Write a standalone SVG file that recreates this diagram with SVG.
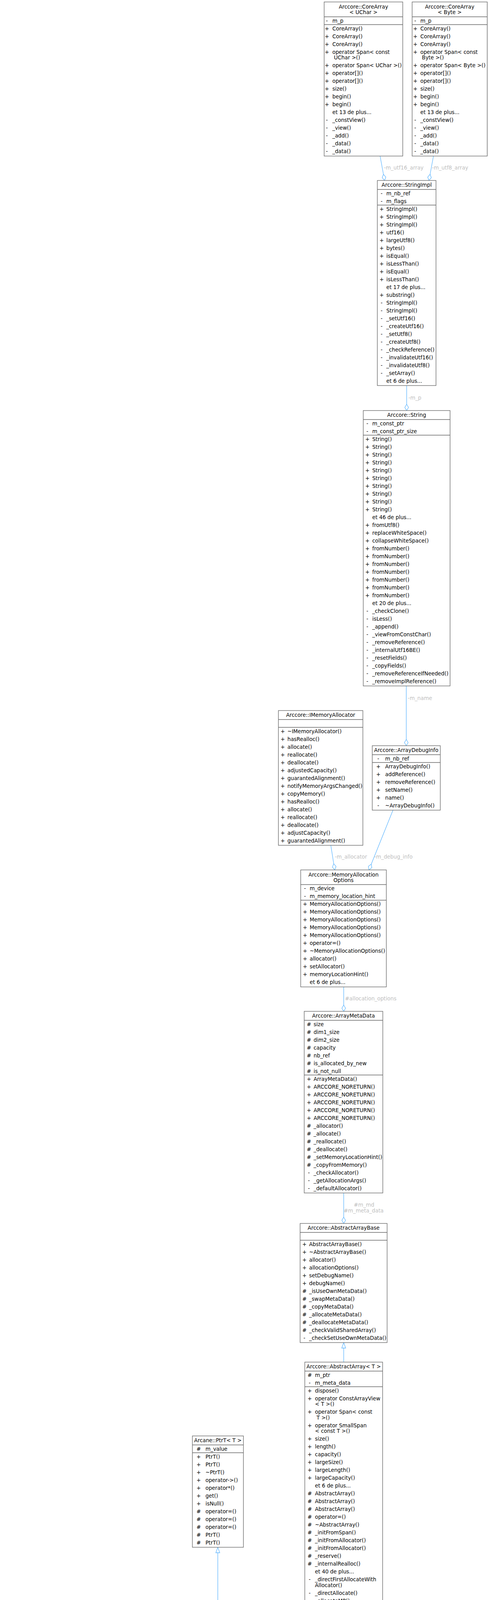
<svg xmlns="http://www.w3.org/2000/svg" width="1248" height="6580" viewBox="0 0 1248 6580">
<style>
.box{fill:#fff;stroke:#666;stroke-width:1.33}
.lbox{fill:#fff;stroke:#bfbfbf;stroke-width:1.33}
.focus{fill:#999;stroke:#666;stroke-width:1.33}
.sep{stroke:#666;stroke-width:1.33}
.lsep{stroke:#bfbfbf;stroke-width:1.33}
text{font-family:"DejaVu Sans","Liberation Sans",sans-serif;font-size:13.33px;fill:#000}
.c{text-anchor:middle}
.e{fill:none;stroke:#63b8ff;stroke-width:1.33}
.comp{marker-end:url(#dia)}
.inh{marker-end:url(#tri)}
.lbl{fill:#bebebe;text-anchor:middle}
</style>
<defs>
<marker id="dia" markerUnits="userSpaceOnUse" markerWidth="18" markerHeight="12" viewBox="0 -6 18 12" refX="17" refY="0" orient="auto"><path d="M1,0 L9,-4.7 L17,0 L9,4.7 Z" fill="#fff" stroke="#63b8ff" stroke-width="1.33"/></marker>
<marker id="tri" markerUnits="userSpaceOnUse" markerWidth="16" markerHeight="12" viewBox="0 -6 16 12" refX="15" refY="0" orient="auto"><path d="M1,-5 L15,0 L1,5 Z" fill="#fff" stroke="#63b8ff" stroke-width="1.33"/></marker>
</defs>
<rect x="0" y="0" width="1248" height="6580" fill="#fff"/>

<g id="connectors">
<path class="e comp" d="M972,399.5 L983.5,462"/>
<path class="e comp" d="M1108.5,399.5 L1097,462"/>
<path class="e comp" d="M1040,987 L1040,1051"/>
<path class="e comp" d="M1039,1756 L1039,1909"/>
<path class="e comp" d="M846,2164 L856,2227"/>
<path class="e comp" d="M1005,2074 L943.5,2227"/>
<path class="e comp" d="M879,2526.5 L879,2589"/>
<path class="e comp" d="M879,3054 L879,3132"/>
<path class="e inh" d="M879,3487 L879,3437"/>
<path class="e inh" d="M810,4200 L816,4150"/>
<path class="e inh" d="M947.5,4200 L941,4150"/>
<path class="e inh" d="M557,4295 L557,3961"/>
<path class="e inh" d="M129,5092 L129,4547"/>
<path class="e inh" d="M770.5,5305 L770,4628.5"/>
<path class="e inh" d="M953,5305 L977.5,4628.5"/>
<path class="e comp" d="M562,4534.5 L588,5282"/>
<path class="e comp" d="M130,5797 C150,6080 300,6270 572.5,6391"/>
<path class="e comp" d="M424,6197 C450,6275 500,6335 572.5,6367"/>
<path class="e comp" d="M573,5607 C565,5800 575,6100 605,6275"/>
<path class="e comp" d="M776,5584.5 C778,5900 750,6150 732.5,6275"/>
<path class="e comp" d="M945,5584.5 C935,5950 880,6230 790,6311"/>
<path class="e comp" d="M1125,5487 C1150,5650 1160,5800 1150,5950 C1135,6150 1000,6320 790,6386"/>
<text class="lbl" x="1032.5" y="433.5">-m_utf16_array</text>
<text class="lbl" x="1151" y="433.5">-m_utf8_array</text>
<text class="lbl" x="1061" y="1022.5">-m_p</text>
<text class="lbl" x="1074" y="1791.5">-m_name</text>
<text class="lbl" x="897.5" y="2198">-m_allocator</text>
<text class="lbl" x="1006" y="2198">-m_debug_info</text>
<text class="lbl" x="948" y="2561">#allocation_options</text>
<text class="lbl" x="931" y="3088.5">#m_md</text>
<text class="lbl" x="930" y="3103.5">#m_meta_data</text>
<text class="lbl" x="601" y="4663.5">#m_impl</text>
<text class="lbl" x="345.5" y="6239">+m_mesh</text>
<text class="lbl" x="521.5" y="6231.5">+m_item_family</text>
<text class="lbl" x="519" y="6246.5">+m_sub_item_family</text>
<text class="lbl" x="670" y="6231.5">+m_item_group</text>
<text class="lbl" x="667" y="6246.5">+m_sub_item_group</text>
<text class="lbl" x="784" y="6239">+m_indexes</text>
<text class="lbl" x="930" y="6239">+m_sub_items_local_id</text>
<text class="lbl" x="1102" y="6239">+m_compute_functor</text>
</g>

<g id="n_corearray_uchar">
<rect class="box" x="829" y="5" width="201" height="394.5"/>
<line class="sep" x1="829" y1="43" x2="1030" y2="43"/>
<line class="sep" x1="829" y1="63" x2="1030" y2="63"/>
<text class="c"><tspan x="929.5" y="21.5">Arccore::CoreArray</tspan><tspan x="929.5" y="35.5">&lt; UChar &gt;</tspan></text>
<text class="c"><tspan x="836" y="57.5">-</tspan><tspan x="836" y="77.5">+</tspan><tspan x="836" y="97.5">+</tspan><tspan x="836" y="117.5">+</tspan><tspan x="836" y="137.5">+</tspan><tspan x="836" y="172">+</tspan><tspan x="836" y="192">+</tspan><tspan x="836" y="212">+</tspan><tspan x="836" y="232">+</tspan><tspan x="836" y="252">+</tspan><tspan x="836" y="272">+</tspan><tspan x="836" y="312">-</tspan><tspan x="836" y="332">-</tspan><tspan x="836" y="352">-</tspan><tspan x="836" y="372">-</tspan><tspan x="836" y="392">-</tspan></text>
<text><tspan x="850" y="57.5">m_p</tspan><tspan x="850" dy="20">CoreArray()</tspan><tspan x="850" dy="20">CoreArray()</tspan><tspan x="850" dy="20">CoreArray()</tspan><tspan x="850" dy="20">operator Span&lt; const</tspan><tspan x="854" dy="14.5">UChar &gt;()</tspan><tspan x="850" dy="20">operator Span&lt; UChar &gt;()</tspan><tspan x="850" dy="20">operator[]()</tspan><tspan x="850" dy="20">operator[]()</tspan><tspan x="850" dy="20">size()</tspan><tspan x="850" dy="20">begin()</tspan><tspan x="850" dy="20">begin()</tspan><tspan x="850" dy="20">et 13 de plus...</tspan><tspan x="850" dy="20">_constView()</tspan><tspan x="850" dy="20">_view()</tspan><tspan x="850" dy="20">_add()</tspan><tspan x="850" dy="20">_data()</tspan><tspan x="850" dy="20">_data()</tspan></text>
</g>

<g id="n_corearray_byte">
<rect class="box" x="1054" y="5" width="192" height="394.5"/>
<line class="sep" x1="1054" y1="43" x2="1246" y2="43"/>
<line class="sep" x1="1054" y1="63" x2="1246" y2="63"/>
<text class="c"><tspan x="1150" y="21.5">Arccore::CoreArray</tspan><tspan x="1150" y="35.5">&lt; Byte &gt;</tspan></text>
<text class="c"><tspan x="1062" y="57.5">-</tspan><tspan x="1062" y="77.5">+</tspan><tspan x="1062" y="97.5">+</tspan><tspan x="1062" y="117.5">+</tspan><tspan x="1062" y="137.5">+</tspan><tspan x="1062" y="172">+</tspan><tspan x="1062" y="192">+</tspan><tspan x="1062" y="212">+</tspan><tspan x="1062" y="232">+</tspan><tspan x="1062" y="252">+</tspan><tspan x="1062" y="272">+</tspan><tspan x="1062" y="312">-</tspan><tspan x="1062" y="332">-</tspan><tspan x="1062" y="352">-</tspan><tspan x="1062" y="372">-</tspan><tspan x="1062" y="392">-</tspan></text>
<text><tspan x="1075" y="57.5">m_p</tspan><tspan x="1075" dy="20">CoreArray()</tspan><tspan x="1075" dy="20">CoreArray()</tspan><tspan x="1075" dy="20">CoreArray()</tspan><tspan x="1075" dy="20">operator Span&lt; const</tspan><tspan x="1079" dy="14.5">Byte &gt;()</tspan><tspan x="1075" dy="20">operator Span&lt; Byte &gt;()</tspan><tspan x="1075" dy="20">operator[]()</tspan><tspan x="1075" dy="20">operator[]()</tspan><tspan x="1075" dy="20">size()</tspan><tspan x="1075" dy="20">begin()</tspan><tspan x="1075" dy="20">begin()</tspan><tspan x="1075" dy="20">et 13 de plus...</tspan><tspan x="1075" dy="20">_constView()</tspan><tspan x="1075" dy="20">_view()</tspan><tspan x="1075" dy="20">_add()</tspan><tspan x="1075" dy="20">_data()</tspan><tspan x="1075" dy="20">_data()</tspan></text>
</g>

<g id="n_stringimpl">
<rect class="box" x="965" y="462" width="150" height="525"/>
<line class="sep" x1="965" y1="485" x2="1115" y2="485"/>
<line class="sep" x1="965" y1="525" x2="1115" y2="525"/>
<text class="c" x="1040" y="478">Arccore::StringImpl</text>
<text class="c"><tspan x="976" y="499.5">-</tspan><tspan x="976" y="519.5">-</tspan><tspan x="976" y="539.5">+</tspan><tspan x="976" y="559.5">+</tspan><tspan x="976" y="579.5">+</tspan><tspan x="976" y="599.5">+</tspan><tspan x="976" y="619.5">+</tspan><tspan x="976" y="639.5">+</tspan><tspan x="976" y="659.5">+</tspan><tspan x="976" y="679.5">+</tspan><tspan x="976" y="699.5">+</tspan><tspan x="976" y="719.5">+</tspan><tspan x="976" y="759.5">+</tspan><tspan x="976" y="779.5">-</tspan><tspan x="976" y="799.5">-</tspan><tspan x="976" y="819.5">-</tspan><tspan x="976" y="839.5">-</tspan><tspan x="976" y="859.5">-</tspan><tspan x="976" y="879.5">-</tspan><tspan x="976" y="899.5">-</tspan><tspan x="976" y="919.5">-</tspan><tspan x="976" y="939.5">-</tspan><tspan x="976" y="959.5">-</tspan></text>
<text><tspan x="988" y="499.5">m_nb_ref</tspan><tspan x="988" dy="20">m_flags</tspan><tspan x="988" dy="20">StringImpl()</tspan><tspan x="988" dy="20">StringImpl()</tspan><tspan x="988" dy="20">StringImpl()</tspan><tspan x="988" dy="20">utf16()</tspan><tspan x="988" dy="20">largeUtf8()</tspan><tspan x="988" dy="20">bytes()</tspan><tspan x="988" dy="20">isEqual()</tspan><tspan x="988" dy="20">isLessThan()</tspan><tspan x="988" dy="20">isEqual()</tspan><tspan x="988" dy="20">isLessThan()</tspan><tspan x="988" dy="20">et 17 de plus...</tspan><tspan x="988" dy="20">substring()</tspan><tspan x="988" dy="20">StringImpl()</tspan><tspan x="988" dy="20">StringImpl()</tspan><tspan x="988" dy="20">_setUtf16()</tspan><tspan x="988" dy="20">_createUtf16()</tspan><tspan x="988" dy="20">_setUtf8()</tspan><tspan x="988" dy="20">_createUtf8()</tspan><tspan x="988" dy="20">_checkReference()</tspan><tspan x="988" dy="20">_invalidateUtf16()</tspan><tspan x="988" dy="20">_invalidateUtf8()</tspan><tspan x="988" dy="20">_setArray()</tspan><tspan x="988" dy="20">et 6 de plus...</tspan></text>
</g>

<g id="n_string">
<rect class="box" x="929" y="1051" width="222" height="705"/>
<line class="sep" x1="929" y1="1074" x2="1151" y2="1074"/>
<line class="sep" x1="929" y1="1114" x2="1151" y2="1114"/>
<text class="c" x="1040" y="1067">Arccore::String</text>
<text class="c"><tspan x="939.5" y="1088.5">-</tspan><tspan x="939.5" y="1108.5">-</tspan><tspan x="939.5" y="1128.5">+</tspan><tspan x="939.5" y="1148.5">+</tspan><tspan x="939.5" y="1168.5">+</tspan><tspan x="939.5" y="1188.5">+</tspan><tspan x="939.5" y="1208.5">+</tspan><tspan x="939.5" y="1228.5">+</tspan><tspan x="939.5" y="1248.5">+</tspan><tspan x="939.5" y="1268.5">+</tspan><tspan x="939.5" y="1288.5">+</tspan><tspan x="939.5" y="1308.5">+</tspan><tspan x="939.5" y="1348.5">+</tspan><tspan x="939.5" y="1368.5">+</tspan><tspan x="939.5" y="1388.5">+</tspan><tspan x="939.5" y="1408.5">+</tspan><tspan x="939.5" y="1428.5">+</tspan><tspan x="939.5" y="1448.5">+</tspan><tspan x="939.5" y="1468.5">+</tspan><tspan x="939.5" y="1488.5">+</tspan><tspan x="939.5" y="1508.5">+</tspan><tspan x="939.5" y="1528.5">+</tspan><tspan x="939.5" y="1568.5">-</tspan><tspan x="939.5" y="1588.5">-</tspan><tspan x="939.5" y="1608.5">-</tspan><tspan x="939.5" y="1628.5">-</tspan><tspan x="939.5" y="1648.5">-</tspan><tspan x="939.5" y="1668.5">-</tspan><tspan x="939.5" y="1688.5">-</tspan><tspan x="939.5" y="1708.5">-</tspan><tspan x="939.5" y="1728.5">-</tspan><tspan x="939.5" y="1748.5">-</tspan></text>
<text><tspan x="952" y="1088.5">m_const_ptr</tspan><tspan x="952" dy="20">m_const_ptr_size</tspan><tspan x="952" dy="20">String()</tspan><tspan x="952" dy="20">String()</tspan><tspan x="952" dy="20">String()</tspan><tspan x="952" dy="20">String()</tspan><tspan x="952" dy="20">String()</tspan><tspan x="952" dy="20">String()</tspan><tspan x="952" dy="20">String()</tspan><tspan x="952" dy="20">String()</tspan><tspan x="952" dy="20">String()</tspan><tspan x="952" dy="20">String()</tspan><tspan x="952" dy="20">et 46 de plus...</tspan><tspan x="952" dy="20">fromUtf8()</tspan><tspan x="952" dy="20">replaceWhiteSpace()</tspan><tspan x="952" dy="20">collapseWhiteSpace()</tspan><tspan x="952" dy="20">fromNumber()</tspan><tspan x="952" dy="20">fromNumber()</tspan><tspan x="952" dy="20">fromNumber()</tspan><tspan x="952" dy="20">fromNumber()</tspan><tspan x="952" dy="20">fromNumber()</tspan><tspan x="952" dy="20">fromNumber()</tspan><tspan x="952" dy="20">fromNumber()</tspan><tspan x="952" dy="20">et 20 de plus...</tspan><tspan x="952" dy="20">_checkClone()</tspan><tspan x="952" dy="20">isLess()</tspan><tspan x="952" dy="20">_append()</tspan><tspan x="952" dy="20">_viewFromConstChar()</tspan><tspan x="952" dy="20">_removeReference()</tspan><tspan x="952" dy="20">_internalUtf16BE()</tspan><tspan x="952" dy="20">_resetFields()</tspan><tspan x="952" dy="20">_copyFields()</tspan><tspan x="952" dy="20">_removeReferenceIfNeeded()</tspan><tspan x="952" dy="20">_removeImplReference()</tspan></text>
</g>

<g id="n_imemoryallocator">
<rect class="box" x="712" y="1819" width="216" height="345"/>
<line class="sep" x1="712" y1="1842" x2="928" y2="1842"/>
<line class="sep" x1="712" y1="1862" x2="928" y2="1862"/>
<text class="c" x="820" y="1835">Arccore::IMemoryAllocator</text>
<text class="c"><tspan x="723" y="1876.5">+</tspan><tspan x="723" y="1896.5">+</tspan><tspan x="723" y="1916.5">+</tspan><tspan x="723" y="1936.5">+</tspan><tspan x="723" y="1956.5">+</tspan><tspan x="723" y="1976.5">+</tspan><tspan x="723" y="1996.5">+</tspan><tspan x="723" y="2016.5">+</tspan><tspan x="723" y="2036.5">+</tspan><tspan x="723" y="2056.5">+</tspan><tspan x="723" y="2076.5">+</tspan><tspan x="723" y="2096.5">+</tspan><tspan x="723" y="2116.5">+</tspan><tspan x="723" y="2136.5">+</tspan><tspan x="723" y="2156.5">+</tspan></text>
<text><tspan x="735" y="1876.5">~IMemoryAllocator()</tspan><tspan x="735" dy="20">hasRealloc()</tspan><tspan x="735" dy="20">allocate()</tspan><tspan x="735" dy="20">reallocate()</tspan><tspan x="735" dy="20">deallocate()</tspan><tspan x="735" dy="20">adjustedCapacity()</tspan><tspan x="735" dy="20">guarantedAlignment()</tspan><tspan x="735" dy="20">notifyMemoryArgsChanged()</tspan><tspan x="735" dy="20">copyMemory()</tspan><tspan x="735" dy="20">hasRealloc()</tspan><tspan x="735" dy="20">allocate()</tspan><tspan x="735" dy="20">reallocate()</tspan><tspan x="735" dy="20">deallocate()</tspan><tspan x="735" dy="20">adjustCapacity()</tspan><tspan x="735" dy="20">guarantedAlignment()</tspan></text>
</g>

<g id="n_arraydebuginfo">
<rect class="box" x="952" y="1909" width="174" height="165"/>
<line class="sep" x1="952" y1="1932" x2="1126" y2="1932"/>
<line class="sep" x1="952" y1="1952" x2="1126" y2="1952"/>
<text class="c" x="1039" y="1925">Arccore::ArrayDebugInfo</text>
<text class="c"><tspan x="967.5" y="1946.5">-</tspan><tspan x="967.5" y="1966.5">+</tspan><tspan x="967.5" y="1986.5">+</tspan><tspan x="967.5" y="2006.5">+</tspan><tspan x="967.5" y="2026.5">+</tspan><tspan x="967.5" y="2046.5">+</tspan><tspan x="967.5" y="2066.5">-</tspan></text>
<text><tspan x="985" y="1946.5">m_nb_ref</tspan><tspan x="985" dy="20">ArrayDebugInfo()</tspan><tspan x="985" dy="20">addReference()</tspan><tspan x="985" dy="20">removeReference()</tspan><tspan x="985" dy="20">setName()</tspan><tspan x="985" dy="20">name()</tspan><tspan x="985" dy="20">~ArrayDebugInfo()</tspan></text>
</g>

<g id="n_memoryallocationoptions">
<rect class="box" x="769" y="2227" width="219" height="299.5"/>
<line class="sep" x1="769" y1="2264.5" x2="988" y2="2264.5"/>
<line class="sep" x1="769" y1="2304.5" x2="988" y2="2304.5"/>
<text class="c"><tspan x="878.5" y="2243.5">Arccore::MemoryAllocation</tspan><tspan x="878.5" y="2257.5">Options</tspan></text>
<text class="c"><tspan x="780" y="2279">-</tspan><tspan x="780" y="2299">-</tspan><tspan x="780" y="2319">+</tspan><tspan x="780" y="2339">+</tspan><tspan x="780" y="2359">+</tspan><tspan x="780" y="2379">+</tspan><tspan x="780" y="2399">+</tspan><tspan x="780" y="2419">+</tspan><tspan x="780" y="2439">+</tspan><tspan x="780" y="2459">+</tspan><tspan x="780" y="2479">+</tspan><tspan x="780" y="2499">+</tspan></text>
<text><tspan x="792" y="2279">m_device</tspan><tspan x="792" dy="20">m_memory_location_hint</tspan><tspan x="792" dy="20">MemoryAllocationOptions()</tspan><tspan x="792" dy="20">MemoryAllocationOptions()</tspan><tspan x="792" dy="20">MemoryAllocationOptions()</tspan><tspan x="792" dy="20">MemoryAllocationOptions()</tspan><tspan x="792" dy="20">MemoryAllocationOptions()</tspan><tspan x="792" dy="20">operator=()</tspan><tspan x="792" dy="20">~MemoryAllocationOptions()</tspan><tspan x="792" dy="20">allocator()</tspan><tspan x="792" dy="20">setAllocator()</tspan><tspan x="792" dy="20">memoryLocationHint()</tspan><tspan x="792" dy="20">et 6 de plus...</tspan></text>
</g>

<g id="n_arraymetadata">
<rect class="box" x="778" y="2589" width="201" height="465"/>
<line class="sep" x1="778" y1="2612" x2="979" y2="2612"/>
<line class="sep" x1="778" y1="2752" x2="979" y2="2752"/>
<text class="c" x="878.5" y="2605">Arccore::ArrayMetaData</text>
<text class="c"><tspan x="790" y="2626.5">#</tspan><tspan x="790" y="2646.5">#</tspan><tspan x="790" y="2666.5">#</tspan><tspan x="790" y="2686.5">#</tspan><tspan x="790" y="2706.5">#</tspan><tspan x="790" y="2726.5">#</tspan><tspan x="790" y="2746.5">#</tspan><tspan x="790" y="2766.5">+</tspan><tspan x="790" y="2786.5">+</tspan><tspan x="790" y="2806.5">+</tspan><tspan x="790" y="2826.5">+</tspan><tspan x="790" y="2846.5">+</tspan><tspan x="790" y="2866.5">+</tspan><tspan x="790" y="2886.5">#</tspan><tspan x="790" y="2906.5">#</tspan><tspan x="790" y="2926.5">#</tspan><tspan x="790" y="2946.5">#</tspan><tspan x="790" y="2966.5">#</tspan><tspan x="790" y="2986.5">#</tspan><tspan x="790" y="3006.5">-</tspan><tspan x="790" y="3026.5">-</tspan><tspan x="790" y="3046.5">-</tspan></text>
<text><tspan x="802" y="2626.5">size</tspan><tspan x="802" dy="20">dim1_size</tspan><tspan x="802" dy="20">dim2_size</tspan><tspan x="802" dy="20">capacity</tspan><tspan x="802" dy="20">nb_ref</tspan><tspan x="802" dy="20">is_allocated_by_new</tspan><tspan x="802" dy="20">is_not_null</tspan><tspan x="802" dy="20">ArrayMetaData()</tspan><tspan x="802" dy="20">ARCCORE_NORETURN()</tspan><tspan x="802" dy="20">ARCCORE_NORETURN()</tspan><tspan x="802" dy="20">ARCCORE_NORETURN()</tspan><tspan x="802" dy="20">ARCCORE_NORETURN()</tspan><tspan x="802" dy="20">ARCCORE_NORETURN()</tspan><tspan x="802" dy="20">_allocator()</tspan><tspan x="802" dy="20">_allocate()</tspan><tspan x="802" dy="20">_reallocate()</tspan><tspan x="802" dy="20">_deallocate()</tspan><tspan x="802" dy="20">_setMemoryLocationHint()</tspan><tspan x="802" dy="20">_copyFromMemory()</tspan><tspan x="802" dy="20">_checkAllocator()</tspan><tspan x="802" dy="20">_getAllocationArgs()</tspan><tspan x="802" dy="20">_defaultAllocator()</tspan></text>
</g>

<g id="n_abstractarraybase">
<rect class="box" x="767.5" y="3132" width="222.5" height="305"/>
<line class="sep" x1="767.5" y1="3155" x2="990" y2="3155"/>
<line class="sep" x1="767.5" y1="3175" x2="990" y2="3175"/>
<text class="c" x="878.75" y="3148">Arccore::AbstractArrayBase</text>
<text class="c"><tspan x="778.5" y="3189.5">+</tspan><tspan x="778.5" y="3209.5">+</tspan><tspan x="778.5" y="3229.5">+</tspan><tspan x="778.5" y="3249.5">+</tspan><tspan x="778.5" y="3269.5">+</tspan><tspan x="778.5" y="3289.5">+</tspan><tspan x="778.5" y="3309.5">#</tspan><tspan x="778.5" y="3329.5">#</tspan><tspan x="778.5" y="3349.5">#</tspan><tspan x="778.5" y="3369.5">#</tspan><tspan x="778.5" y="3389.5">#</tspan><tspan x="778.5" y="3409.5">#</tspan><tspan x="778.5" y="3429.5">-</tspan></text>
<text><tspan x="790.5" y="3189.5">AbstractArrayBase()</tspan><tspan x="790.5" dy="20">~AbstractArrayBase()</tspan><tspan x="790.5" dy="20">allocator()</tspan><tspan x="790.5" dy="20">allocationOptions()</tspan><tspan x="790.5" dy="20">setDebugName()</tspan><tspan x="790.5" dy="20">debugName()</tspan><tspan x="790.5" dy="20">_isUseOwnMetaData()</tspan><tspan x="790.5" dy="20">_swapMetaData()</tspan><tspan x="790.5" dy="20">_copyMetaData()</tspan><tspan x="790.5" dy="20">_allocateMetaData()</tspan><tspan x="790.5" dy="20">_deallocateMetaData()</tspan><tspan x="790.5" dy="20">_checkValidSharedArray()</tspan><tspan x="790.5" dy="20">_checkSetUseOwnMetaData()</tspan></text>
</g>

<g id="n_abstractarray">
<rect class="box" x="779.5" y="3487" width="199" height="663"/>
<line class="sep" x1="779.5" y1="3510" x2="978.5" y2="3510"/>
<line class="sep" x1="779.5" y1="3550" x2="978.5" y2="3550"/>
<text class="c" x="879" y="3503">Arccore::AbstractArray&lt; T &gt;</text>
<text class="c"><tspan x="792" y="3524.5">#</tspan><tspan x="792" y="3544.5">-</tspan><tspan x="792" y="3564.5">+</tspan><tspan x="792" y="3584.5">+</tspan><tspan x="792" y="3619">+</tspan><tspan x="792" y="3653.5">+</tspan><tspan x="792" y="3688">+</tspan><tspan x="792" y="3708">+</tspan><tspan x="792" y="3728">+</tspan><tspan x="792" y="3748">+</tspan><tspan x="792" y="3768">+</tspan><tspan x="792" y="3788">+</tspan><tspan x="792" y="3828">#</tspan><tspan x="792" y="3848">#</tspan><tspan x="792" y="3868">#</tspan><tspan x="792" y="3888">#</tspan><tspan x="792" y="3908">#</tspan><tspan x="792" y="3928">#</tspan><tspan x="792" y="3948">#</tspan><tspan x="792" y="3968">#</tspan><tspan x="792" y="3988">#</tspan><tspan x="792" y="4008">#</tspan><tspan x="792" y="4048">-</tspan><tspan x="792" y="4082.5">-</tspan><tspan x="792" y="4102.5">-</tspan><tspan x="792" y="4122.5">-</tspan><tspan x="792" y="4142.5">-</tspan></text>
<text><tspan x="805.5" y="3524.5">m_ptr</tspan><tspan x="805.5" dy="20">m_meta_data</tspan><tspan x="805.5" dy="20">dispose()</tspan><tspan x="805.5" dy="20">operator ConstArrayView</tspan><tspan x="805.5" dy="14.5">&lt; T &gt;()</tspan><tspan x="805.5" dy="20">operator Span&lt; const</tspan><tspan x="809.5" dy="14.5">T &gt;()</tspan><tspan x="805.5" dy="20">operator SmallSpan</tspan><tspan x="805.5" dy="14.5">&lt; const T &gt;()</tspan><tspan x="805.5" dy="20">size()</tspan><tspan x="805.5" dy="20">length()</tspan><tspan x="805.5" dy="20">capacity()</tspan><tspan x="805.5" dy="20">largeSize()</tspan><tspan x="805.5" dy="20">largeLength()</tspan><tspan x="805.5" dy="20">largeCapacity()</tspan><tspan x="805.5" dy="20">et 6 de plus...</tspan><tspan x="805.5" dy="20">AbstractArray()</tspan><tspan x="805.5" dy="20">AbstractArray()</tspan><tspan x="805.5" dy="20">AbstractArray()</tspan><tspan x="805.5" dy="20">operator=()</tspan><tspan x="805.5" dy="20">~AbstractArray()</tspan><tspan x="805.5" dy="20">_initFromSpan()</tspan><tspan x="805.5" dy="20">_initFromAllocator()</tspan><tspan x="805.5" dy="20">_initFromAllocator()</tspan><tspan x="805.5" dy="20">_reserve()</tspan><tspan x="805.5" dy="20">_internalRealloc()</tspan><tspan x="805.5" dy="20">et 40 de plus...</tspan><tspan x="805.5" dy="20">_directFirstAllocateWith</tspan><tspan x="805.5" dy="14.5">Allocator()</tspan><tspan x="805.5" dy="20">_directAllocate()</tspan><tspan x="805.5" dy="20">_allocateMP()</tspan><tspan x="805.5" dy="20">_directReAllocate()</tspan><tspan x="805.5" dy="20">_setToSharedNull()</tspan></text>
</g>

<g id="n_ptrt">
<rect class="box" x="492" y="3676" width="130.5" height="285"/>
<line class="sep" x1="492" y1="3699" x2="622.5" y2="3699"/>
<line class="sep" x1="492" y1="3719" x2="622.5" y2="3719"/>
<text class="c" x="557.25" y="3692">Arcane::PtrT&lt; T &gt;</text>
<text class="c"><tspan x="508" y="3713.5">#</tspan><tspan x="508" y="3733.5">+</tspan><tspan x="508" y="3753.5">+</tspan><tspan x="508" y="3773.5">+</tspan><tspan x="508" y="3793.5">+</tspan><tspan x="508" y="3813.5">+</tspan><tspan x="508" y="3833.5">+</tspan><tspan x="508" y="3853.5">+</tspan><tspan x="508" y="3873.5">#</tspan><tspan x="508" y="3893.5">#</tspan><tspan x="508" y="3913.5">#</tspan><tspan x="508" y="3933.5">#</tspan><tspan x="508" y="3953.5">#</tspan></text>
<text><tspan x="525.5" y="3713.5">m_value</tspan><tspan x="525.5" dy="20">PtrT()</tspan><tspan x="525.5" dy="20">PtrT()</tspan><tspan x="525.5" dy="20">~PtrT()</tspan><tspan x="525.5" dy="20">operator-&gt;()</tspan><tspan x="525.5" dy="20">operator*()</tspan><tspan x="525.5" dy="20">get()</tspan><tspan x="525.5" dy="20">isNull()</tspan><tspan x="525.5" dy="20">operator=()</tspan><tspan x="525.5" dy="20">operator=()</tspan><tspan x="525.5" dy="20">operator=()</tspan><tspan x="525.5" dy="20">PtrT()</tspan><tspan x="525.5" dy="20">PtrT()</tspan></text>
</g>

<g id="n_autoreft">
<rect class="box" x="464" y="4295" width="186.5" height="239.5"/>
<line class="sep" x1="464" y1="4332.5" x2="650.5" y2="4332.5"/>
<line class="sep" x1="464" y1="4352.5" x2="650.5" y2="4352.5"/>
<text class="c"><tspan x="557.25" y="4311.5">Arcane::AutoRefT&lt; Arcane</tspan><tspan x="557.25" y="4325.5">::ItemGroupImpl &gt;</tspan></text>
<text class="c"><tspan x="488" y="4347">+</tspan><tspan x="488" y="4367">+</tspan><tspan x="488" y="4387">+</tspan><tspan x="488" y="4407">+</tspan><tspan x="488" y="4427">+</tspan><tspan x="488" y="4447">+</tspan><tspan x="488" y="4467">+</tspan><tspan x="488" y="4487">-</tspan><tspan x="488" y="4507">-</tspan><tspan x="488" y="4527">-</tspan></text>
<text><tspan x="515" y="4347">m_value</tspan><tspan x="515" dy="20">AutoRefT()</tspan><tspan x="515" dy="20">AutoRefT()</tspan><tspan x="515" dy="20">AutoRefT()</tspan><tspan x="515" dy="20">operator=()</tspan><tspan x="515" dy="20">operator=()</tspan><tspan x="515" dy="20">~AutoRefT()</tspan><tspan x="515" dy="20">_addRef()</tspan><tspan x="515" dy="20">_removeRef()</tspan><tspan x="515" dy="20">_changeValue()</tspan></text>
</g>

<g id="n_array_1">
<rect class="box" x="674" y="4200" width="192" height="428.5"/>
<line class="sep" x1="674" y1="4223" x2="866" y2="4223"/>
<line class="sep" x1="674" y1="4243" x2="866" y2="4243"/>
<text class="c" x="770" y="4216">Arccore::Array&lt; T &gt;</text>
<text class="c"><tspan x="685.5" y="4257.5">+</tspan><tspan x="685.5" y="4277.5">+</tspan><tspan x="685.5" y="4312">+</tspan><tspan x="685.5" y="4346.5">+</tspan><tspan x="685.5" y="4381">+</tspan><tspan x="685.5" y="4401">+</tspan><tspan x="685.5" y="4421">+</tspan><tspan x="685.5" y="4441">+</tspan><tspan x="685.5" y="4461">+</tspan><tspan x="685.5" y="4481">+</tspan><tspan x="685.5" y="4521">#</tspan><tspan x="685.5" y="4541">#</tspan><tspan x="685.5" y="4561">#</tspan><tspan x="685.5" y="4581">-</tspan><tspan x="685.5" y="4601">-</tspan><tspan x="685.5" y="4621">-</tspan></text>
<text><tspan x="697.5" y="4257.5">~Array()</tspan><tspan x="697.5" dy="20">operator ConstArrayView</tspan><tspan x="697.5" dy="14.5">&lt; T &gt;()</tspan><tspan x="697.5" dy="20">operator ArrayView</tspan><tspan x="697.5" dy="14.5">&lt; T &gt;()</tspan><tspan x="697.5" dy="20">operator Span&lt; const</tspan><tspan x="701.5" dy="14.5">T &gt;()</tspan><tspan x="697.5" dy="20">operator Span&lt; T &gt;()</tspan><tspan x="697.5" dy="20">constView()</tspan><tspan x="697.5" dy="20">constSpan()</tspan><tspan x="697.5" dy="20">subConstView()</tspan><tspan x="697.5" dy="20">view()</tspan><tspan x="697.5" dy="20">span()</tspan><tspan x="697.5" dy="20">et 53 de plus...</tspan><tspan x="697.5" dy="20">Array()</tspan><tspan x="697.5" dy="20">Array()</tspan><tspan x="697.5" dy="20">_initFromInitializerList()</tspan><tspan x="697.5" dy="20">Array()</tspan><tspan x="697.5" dy="20">operator=()</tspan><tspan x="697.5" dy="20">TV_ttf_display_type()</tspan></text>
</g>

<g id="n_array_2">
<rect class="box" x="890" y="4200" width="193" height="428.5"/>
<line class="sep" x1="890" y1="4223" x2="1083" y2="4223"/>
<line class="sep" x1="890" y1="4243" x2="1083" y2="4243"/>
<text class="c" x="986.5" y="4216">Arccore::Array&lt; T &gt;</text>
<text class="c"><tspan x="901" y="4257.5">+</tspan><tspan x="901" y="4277.5">+</tspan><tspan x="901" y="4312">+</tspan><tspan x="901" y="4346.5">+</tspan><tspan x="901" y="4381">+</tspan><tspan x="901" y="4401">+</tspan><tspan x="901" y="4421">+</tspan><tspan x="901" y="4441">+</tspan><tspan x="901" y="4461">+</tspan><tspan x="901" y="4481">+</tspan><tspan x="901" y="4521">#</tspan><tspan x="901" y="4541">#</tspan><tspan x="901" y="4561">#</tspan><tspan x="901" y="4581">-</tspan><tspan x="901" y="4601">-</tspan><tspan x="901" y="4621">-</tspan></text>
<text><tspan x="913" y="4257.5">~Array()</tspan><tspan x="913" dy="20">operator ConstArrayView</tspan><tspan x="913" dy="14.5">&lt; T &gt;()</tspan><tspan x="913" dy="20">operator ArrayView</tspan><tspan x="913" dy="14.5">&lt; T &gt;()</tspan><tspan x="913" dy="20">operator Span&lt; const</tspan><tspan x="917" dy="14.5">T &gt;()</tspan><tspan x="913" dy="20">operator Span&lt; T &gt;()</tspan><tspan x="913" dy="20">constView()</tspan><tspan x="913" dy="20">constSpan()</tspan><tspan x="913" dy="20">subConstView()</tspan><tspan x="913" dy="20">view()</tspan><tspan x="913" dy="20">span()</tspan><tspan x="913" dy="20">et 53 de plus...</tspan><tspan x="913" dy="20">Array()</tspan><tspan x="913" dy="20">Array()</tspan><tspan x="913" dy="20">_initFromInitializerList()</tspan><tspan x="913" dy="20">Array()</tspan><tspan x="913" dy="20">operator=()</tspan><tspan x="913" dy="20">TV_ttf_display_type()</tspan></text>
</g>

<g id="n_imeshbase">
<rect class="lbox" x="60" y="4282" width="138" height="265"/>
<line class="lsep" x1="60" y1="4305" x2="198" y2="4305"/>
<line class="lsep" x1="60" y1="4325" x2="198" y2="4325"/>
<text class="c" x="129" y="4298">Arcane::IMeshBase</text>
<text class="c"><tspan x="74" y="4339.5">+</tspan><tspan x="74" y="4359.5">+</tspan><tspan x="74" y="4379.5">+</tspan><tspan x="74" y="4399.5">+</tspan><tspan x="74" y="4419.5">+</tspan><tspan x="74" y="4439.5">+</tspan><tspan x="74" y="4459.5">+</tspan><tspan x="74" y="4479.5">+</tspan><tspan x="74" y="4499.5">+</tspan><tspan x="74" y="4519.5">+</tspan></text>
<text><tspan x="89" y="4339.5">~IMeshBase()</tspan><tspan x="89" dy="20">handle()</tspan><tspan x="89" dy="20">name()</tspan><tspan x="89" dy="20">nbNode()</tspan><tspan x="89" dy="20">nbEdge()</tspan><tspan x="89" dy="20">nbFace()</tspan><tspan x="89" dy="20">nbCell()</tspan><tspan x="89" dy="20">nbItem()</tspan><tspan x="89" dy="20">traceMng()</tspan><tspan x="89" dy="20">dimension()</tspan><tspan x="89" dy="20">et 19 de plus...</tspan></text>
</g>

<g id="n_imesh">
<rect class="box" x="5.5" y="5092" width="247.5" height="705"/>
<line class="sep" x1="5.5" y1="5115" x2="253" y2="5115"/>
<line class="sep" x1="5.5" y1="5135" x2="253" y2="5135"/>
<text class="c" x="129.25" y="5108">Arcane::IMesh</text>
<text class="c"><tspan x="16" y="5149.5">+</tspan><tspan x="16" y="5169.5">+</tspan><tspan x="16" y="5189.5">+</tspan><tspan x="16" y="5209.5">+</tspan><tspan x="16" y="5229.5">+</tspan><tspan x="16" y="5249.5">+</tspan><tspan x="16" y="5269.5">+</tspan><tspan x="16" y="5289.5">+</tspan><tspan x="16" y="5309.5">+</tspan><tspan x="16" y="5329.5">+</tspan><tspan x="16" y="5369.5">+</tspan><tspan x="16" y="5389.5">+</tspan><tspan x="16" y="5409.5">+</tspan><tspan x="16" y="5429.5">+</tspan><tspan x="16" y="5449.5">+</tspan><tspan x="16" y="5469.5">+</tspan><tspan x="16" y="5489.5">+</tspan><tspan x="16" y="5509.5">+</tspan><tspan x="16" y="5529.5">+</tspan><tspan x="16" y="5549.5">+</tspan><tspan x="16" y="5589.5">*</tspan><tspan x="16" y="5609.5">*</tspan><tspan x="16" y="5629.5">*</tspan><tspan x="16" y="5649.5">*</tspan><tspan x="16" y="5669.5">*</tspan><tspan x="16" y="5689.5">*</tspan><tspan x="16" y="5709.5">*</tspan><tspan x="16" y="5729.5">*</tspan><tspan x="16" y="5749.5">*</tspan><tspan x="16" y="5769.5">*</tspan></text>
<text><tspan x="28" y="5149.5">~IMesh()</tspan><tspan x="28" dy="20">build()</tspan><tspan x="28" dy="20">factoryName()</tspan><tspan x="28" dy="20">itemsInternal()</tspan><tspan x="28" dy="20">sharedNodesCoordinates()</tspan><tspan x="28" dy="20">checkValidMesh()</tspan><tspan x="28" dy="20">checkValidMeshFull()</tspan><tspan x="28" dy="20">synchronizeGroupsAndVariables()</tspan><tspan x="28" dy="20">isAllocated()</tspan><tspan x="28" dy="20">timestamp()</tspan><tspan x="28" dy="20">et 23 de plus...</tspan><tspan x="28" dy="20">computeTiedInterfaces()</tspan><tspan x="28" dy="20">hasTiedInterface()</tspan><tspan x="28" dy="20">tiedInterfaces()</tspan><tspan x="28" dy="20">partitionConstraintMng()</tspan><tspan x="28" dy="20">utilities()</tspan><tspan x="28" dy="20">properties()</tspan><tspan x="28" dy="20">modifier()</tspan><tspan x="28" dy="20">nodesCoordinates()</tspan><tspan x="28" dy="20">defineParentForBuild()</tspan><tspan x="28" dy="20">parentMesh()</tspan><tspan x="28" dy="20">et 23 de plus...</tspan><tspan x="28" dy="20">computeTiedInterfaces()</tspan><tspan x="28" dy="20">hasTiedInterface()</tspan><tspan x="28" dy="20">tiedInterfaces()</tspan><tspan x="28" dy="20">partitionConstraintMng()</tspan><tspan x="28" dy="20">utilities()</tspan><tspan x="28" dy="20">properties()</tspan><tspan x="28" dy="20">modifier()</tspan><tspan x="28" dy="20">nodesCoordinates()</tspan><tspan x="28" dy="20">defineParentForBuild()</tspan><tspan x="28" dy="20">parentMesh()</tspan><tspan x="28" dy="20">et 23 de plus...</tspan></text>
</g>

<g id="n_iitemfamily">
<rect class="box" x="278" y="4692" width="215" height="1505"/>
<line class="sep" x1="278" y1="4715" x2="493" y2="4715"/>
<line class="sep" x1="278" y1="4735" x2="493" y2="4735"/>
<text class="c" x="385.5" y="4708">Arcane::IItemFamily</text>
<text class="c"><tspan x="289" y="4749.5">+</tspan><tspan x="289" y="4769.5">+</tspan><tspan x="289" y="4789.5">+</tspan><tspan x="289" y="4809.5">+</tspan><tspan x="289" y="4829.5">+</tspan><tspan x="289" y="4849.5">+</tspan><tspan x="289" y="4869.5">+</tspan><tspan x="289" y="4889.5">+</tspan><tspan x="289" y="4909.5">+</tspan><tspan x="289" y="4929.5">+</tspan><tspan x="289" y="4969.5">+</tspan><tspan x="289" y="4989.5">+</tspan><tspan x="289" y="5009.5">+</tspan><tspan x="289" y="5029.5">+</tspan><tspan x="289" y="5049.5">+</tspan><tspan x="289" y="5069.5">+</tspan><tspan x="289" y="5089.5">+</tspan><tspan x="289" y="5109.5">+</tspan><tspan x="289" y="5129.5">+</tspan><tspan x="289" y="5149.5">+</tspan><tspan x="289" y="5189.5">+</tspan><tspan x="289" y="5209.5">+</tspan><tspan x="289" y="5229.5">+</tspan><tspan x="289" y="5249.5">+</tspan><tspan x="289" y="5269.5">+</tspan><tspan x="289" y="5289.5">+</tspan><tspan x="289" y="5309.5">+</tspan><tspan x="289" y="5329.5">+</tspan><tspan x="289" y="5349.5">+</tspan><tspan x="289" y="5369.5">+</tspan><tspan x="289" y="5389.5">+</tspan><tspan x="289" y="5409.5">+</tspan><tspan x="289" y="5429.5">+</tspan><tspan x="289" y="5449.5">+</tspan><tspan x="289" y="5469.5">+</tspan><tspan x="289" y="5489.5">+</tspan><tspan x="289" y="5509.5">+</tspan><tspan x="289" y="5529.5">+</tspan><tspan x="289" y="5549.5">+</tspan><tspan x="289" y="5569.5">+</tspan><tspan x="289" y="5589.5">*</tspan><tspan x="289" y="5609.5">*</tspan><tspan x="289" y="5629.5">*</tspan><tspan x="289" y="5649.5">*</tspan><tspan x="289" y="5669.5">*</tspan><tspan x="289" y="5689.5">*</tspan><tspan x="289" y="5709.5">*</tspan><tspan x="289" y="5729.5">*</tspan><tspan x="289" y="5749.5">*</tspan><tspan x="289" y="5769.5">*</tspan><tspan x="289" y="5809.5">*</tspan><tspan x="289" y="5829.5">*</tspan><tspan x="289" y="5849.5">*</tspan><tspan x="289" y="5869.5">*</tspan><tspan x="289" y="5889.5">*</tspan><tspan x="289" y="5909.5">*</tspan><tspan x="289" y="5929.5">*</tspan><tspan x="289" y="5949.5">*</tspan><tspan x="289" y="5969.5">*</tspan><tspan x="289" y="5989.5">*</tspan><tspan x="289" y="6009.5">*</tspan><tspan x="289" y="6029.5">*</tspan><tspan x="289" y="6049.5">*</tspan><tspan x="289" y="6069.5">*</tspan><tspan x="289" y="6089.5">*</tspan><tspan x="289" y="6109.5">*</tspan><tspan x="289" y="6129.5">*</tspan><tspan x="289" y="6149.5">*</tspan><tspan x="289" y="6169.5">*</tspan><tspan x="289" y="6189.5">*</tspan></text>
<text><tspan x="301" y="4749.5">~IItemFamily()</tspan><tspan x="301" dy="20">build()</tspan><tspan x="301" dy="20">name()</tspan><tspan x="301" dy="20">fullName()</tspan><tspan x="301" dy="20">itemKind()</tspan><tspan x="301" dy="20">nbItem()</tspan><tspan x="301" dy="20">maxLocalId()</tspan><tspan x="301" dy="20">itemsInternal()</tspan><tspan x="301" dy="20">itemInfoListView()</tspan><tspan x="301" dy="20">parentFamily()</tspan><tspan x="301" dy="20">et 33 de plus...</tspan><tspan x="301" dy="20">findGroup()</tspan><tspan x="301" dy="20">findGroup()</tspan><tspan x="301" dy="20">createGroup()</tspan><tspan x="301" dy="20">createGroup()</tspan><tspan x="301" dy="20">destroyGroups()</tspan><tspan x="301" dy="20">createGroup()</tspan><tspan x="301" dy="20">findVariable()</tspan><tspan x="301" dy="20">usedVariables()</tspan><tspan x="301" dy="20">prepareForDump()</tspan><tspan x="301" dy="20">readFromDump()</tspan><tspan x="301" dy="20">et 6 de plus...</tspan><tspan x="301" dy="20">allItemsSynchronizer()</tspan><tspan x="301" dy="20">synchronize()</tspan><tspan x="301" dy="20">synchronize()</tspan><tspan x="301" dy="20">reduceFromGhostItems()</tspan><tspan x="301" dy="20">reduceFromGhostItems()</tspan><tspan x="301" dy="20">findAdjencyItems()</tspan><tspan x="301" dy="20">toParticleFamily()</tspan><tspan x="301" dy="20">toDoFFamily()</tspan><tspan x="301" dy="20">internalRemoveItems()</tspan><tspan x="301" dy="20">addSourceConnectivity()</tspan><tspan x="301" dy="20">addTargetConnectivity()</tspan><tspan x="301" dy="20">removeSourceConnectivity()</tspan><tspan x="301" dy="20">removeTargetConnectivity()</tspan><tspan x="301" dy="20">setConnectivityMng()</tspan><tspan x="301" dy="20">addGhostItems()</tspan><tspan x="301" dy="20">policyMng()</tspan><tspan x="301" dy="20">properties()</tspan><tspan x="301" dy="20">resizeVariables()</tspan><tspan x="301" dy="20">_topologyModifier()</tspan><tspan x="301" dy="20">_internalApi()</tspan><tspan x="301" dy="20">findGroup()</tspan><tspan x="301" dy="20">findGroup()</tspan><tspan x="301" dy="20">createGroup()</tspan><tspan x="301" dy="20">createGroup()</tspan><tspan x="301" dy="20">destroyGroups()</tspan><tspan x="301" dy="20">createGroup()</tspan><tspan x="301" dy="20">findVariable()</tspan><tspan x="301" dy="20">usedVariables()</tspan><tspan x="301" dy="20">prepareForDump()</tspan><tspan x="301" dy="20">readFromDump()</tspan><tspan x="301" dy="20">et 6 de plus...</tspan><tspan x="301" dy="20">allItemsSynchronizer()</tspan><tspan x="301" dy="20">synchronize()</tspan><tspan x="301" dy="20">synchronize()</tspan><tspan x="301" dy="20">reduceFromGhostItems()</tspan><tspan x="301" dy="20">reduceFromGhostItems()</tspan><tspan x="301" dy="20">findAdjencyItems()</tspan><tspan x="301" dy="20">toParticleFamily()</tspan><tspan x="301" dy="20">toDoFFamily()</tspan><tspan x="301" dy="20">internalRemoveItems()</tspan><tspan x="301" dy="20">addSourceConnectivity()</tspan><tspan x="301" dy="20">addTargetConnectivity()</tspan><tspan x="301" dy="20">removeSourceConnectivity()</tspan><tspan x="301" dy="20">removeTargetConnectivity()</tspan><tspan x="301" dy="20">setConnectivityMng()</tspan><tspan x="301" dy="20">addGhostItems()</tspan><tspan x="301" dy="20">policyMng()</tspan><tspan x="301" dy="20">properties()</tspan><tspan x="301" dy="20">resizeVariables()</tspan><tspan x="301" dy="20">_topologyModifier()</tspan><tspan x="301" dy="20">_internalApi()</tspan></text>
</g>

<g id="n_itemgroup">
<rect class="box" x="516.5" y="5282" width="153.5" height="325"/>
<line class="sep" x1="516.5" y1="5305" x2="670" y2="5305"/>
<line class="sep" x1="516.5" y1="5325" x2="670" y2="5325"/>
<text class="c" x="593.25" y="5298">Arcane::ItemGroup</text>
<text class="c"><tspan x="528" y="5339.5">+</tspan><tspan x="528" y="5359.5">+</tspan><tspan x="528" y="5379.5">+</tspan><tspan x="528" y="5399.5">+</tspan><tspan x="528" y="5419.5">+</tspan><tspan x="528" y="5439.5">+</tspan><tspan x="528" y="5459.5">+</tspan><tspan x="528" y="5479.5">+</tspan><tspan x="528" y="5499.5">+</tspan><tspan x="528" y="5519.5">+</tspan><tspan x="528" y="5559.5">#</tspan><tspan x="528" y="5579.5">#</tspan><tspan x="528" y="5599.5">-</tspan></text>
<text><tspan x="540.5" y="5339.5">ItemGroup()</tspan><tspan x="540.5" dy="20">ItemGroup()</tspan><tspan x="540.5" dy="20">ItemGroup()</tspan><tspan x="540.5" dy="20">operator=()</tspan><tspan x="540.5" dy="20">null()</tspan><tspan x="540.5" dy="20">name()</tspan><tspan x="540.5" dy="20">fullName()</tspan><tspan x="540.5" dy="20">size()</tspan><tspan x="540.5" dy="20">empty()</tspan><tspan x="540.5" dy="20">itemKind()</tspan><tspan x="540.5" dy="20">et 46 de plus...</tspan><tspan x="540.5" dy="20">_view()</tspan><tspan x="540.5" dy="20">_check()</tspan><tspan x="540.5" dy="20">_simdEnumerator()</tspan></text>
</g>

<g id="n_uniquearray_int64">
<rect class="box" x="695" y="5305" width="151" height="279.5"/>
<line class="sep" x1="695" y1="5342.5" x2="846" y2="5342.5"/>
<line class="sep" x1="695" y1="5362.5" x2="846" y2="5362.5"/>
<text class="c"><tspan x="770.5" y="5321.5">Arccore::UniqueArray</tspan><tspan x="770.5" y="5335.5">&lt; Int64 &gt;</tspan></text>
<text class="c"><tspan x="712.5" y="5377">+</tspan><tspan x="712.5" y="5397">+</tspan><tspan x="712.5" y="5417">+</tspan><tspan x="712.5" y="5437">+</tspan><tspan x="712.5" y="5457">+</tspan><tspan x="712.5" y="5477">+</tspan><tspan x="712.5" y="5497">+</tspan><tspan x="712.5" y="5517">+</tspan><tspan x="712.5" y="5537">+</tspan><tspan x="712.5" y="5557">+</tspan></text>
<text><tspan x="731.5" y="5377">UniqueArray()</tspan><tspan x="731.5" dy="20">UniqueArray()</tspan><tspan x="731.5" dy="20">UniqueArray()</tspan><tspan x="731.5" dy="20">UniqueArray()</tspan><tspan x="731.5" dy="20">UniqueArray()</tspan><tspan x="731.5" dy="20">UniqueArray()</tspan><tspan x="731.5" dy="20">UniqueArray()</tspan><tspan x="731.5" dy="20">UniqueArray()</tspan><tspan x="731.5" dy="20">UniqueArray()</tspan><tspan x="731.5" dy="20">UniqueArray()</tspan><tspan x="731.5" dy="20">et 27 de plus...</tspan></text>
</g>

<g id="n_uniquearray_int32">
<rect class="box" x="871" y="5305" width="151" height="279.5"/>
<line class="sep" x1="871" y1="5342.5" x2="1022" y2="5342.5"/>
<line class="sep" x1="871" y1="5362.5" x2="1022" y2="5362.5"/>
<text class="c"><tspan x="946.5" y="5321.5">Arccore::UniqueArray</tspan><tspan x="946.5" y="5335.5">&lt; Int32 &gt;</tspan></text>
<text class="c"><tspan x="888.5" y="5377">+</tspan><tspan x="888.5" y="5397">+</tspan><tspan x="888.5" y="5417">+</tspan><tspan x="888.5" y="5437">+</tspan><tspan x="888.5" y="5457">+</tspan><tspan x="888.5" y="5477">+</tspan><tspan x="888.5" y="5497">+</tspan><tspan x="888.5" y="5517">+</tspan><tspan x="888.5" y="5537">+</tspan><tspan x="888.5" y="5557">+</tspan></text>
<text><tspan x="907.5" y="5377">UniqueArray()</tspan><tspan x="907.5" dy="20">UniqueArray()</tspan><tspan x="907.5" dy="20">UniqueArray()</tspan><tspan x="907.5" dy="20">UniqueArray()</tspan><tspan x="907.5" dy="20">UniqueArray()</tspan><tspan x="907.5" dy="20">UniqueArray()</tspan><tspan x="907.5" dy="20">UniqueArray()</tspan><tspan x="907.5" dy="20">UniqueArray()</tspan><tspan x="907.5" dy="20">UniqueArray()</tspan><tspan x="907.5" dy="20">UniqueArray()</tspan><tspan x="907.5" dy="20">et 27 de plus...</tspan></text>
</g>

<g id="n_ifunctor">
<rect class="box" x="1048" y="5402" width="137" height="85"/>
<line class="sep" x1="1048" y1="5425" x2="1185" y2="5425"/>
<line class="sep" x1="1048" y1="5445" x2="1185" y2="5445"/>
<text class="c" x="1116.5" y="5418">Arccore::IFunctor</text>
<text class="c"><tspan x="1059" y="5459.5">+</tspan><tspan x="1059" y="5479.5">+</tspan></text>
<text><tspan x="1071.5" y="5459.5">~IFunctor()</tspan><tspan x="1071.5" dy="20">executeFunctor()</tspan></text>
</g>

<g id="n_itempairgroupimplprivate">
<rect class="focus" x="572.5" y="6275" width="217.5" height="299.5"/>
<line class="sep" x1="572.5" y1="6312.5" x2="790" y2="6312.5"/>
<line class="sep" x1="572.5" y1="6392.5" x2="790" y2="6392.5"/>
<text class="c"><tspan x="681.25" y="6291.5">Arcane::ItemPairGroupImpl</tspan><tspan x="681.25" y="6305.5">Private</tspan></text>
<text class="c"><tspan x="584" y="6327">+</tspan><tspan x="584" y="6347">+</tspan><tspan x="584" y="6367">+</tspan><tspan x="584" y="6387">+</tspan><tspan x="584" y="6407">+</tspan><tspan x="584" y="6427">+</tspan><tspan x="584" y="6447">+</tspan><tspan x="584" y="6467">+</tspan><tspan x="584" y="6487">+</tspan><tspan x="584" y="6507">+</tspan><tspan x="584" y="6527">+</tspan><tspan x="584" y="6547">+</tspan><tspan x="584" y="6567">-</tspan></text>
<text><tspan x="596" y="6327">m_is_null</tspan><tspan x="596" dy="20">m_kind</tspan><tspan x="596" dy="20">m_sub_kind</tspan><tspan x="596" dy="20">m_need_recompute</tspan><tspan x="596" dy="20">ItemPairGroupImplPrivate()</tspan><tspan x="596" dy="20">ItemPairGroupImplPrivate()</tspan><tspan x="596" dy="20">~ItemPairGroupImplPrivate()</tspan><tspan x="596" dy="20">null()</tspan><tspan x="596" dy="20">mesh()</tspan><tspan x="596" dy="20">kind()</tspan><tspan x="596" dy="20">subKind()</tspan><tspan x="596" dy="20">invalidate()</tspan><tspan x="596" dy="20">_init()</tspan></text>
</g>
</svg>
